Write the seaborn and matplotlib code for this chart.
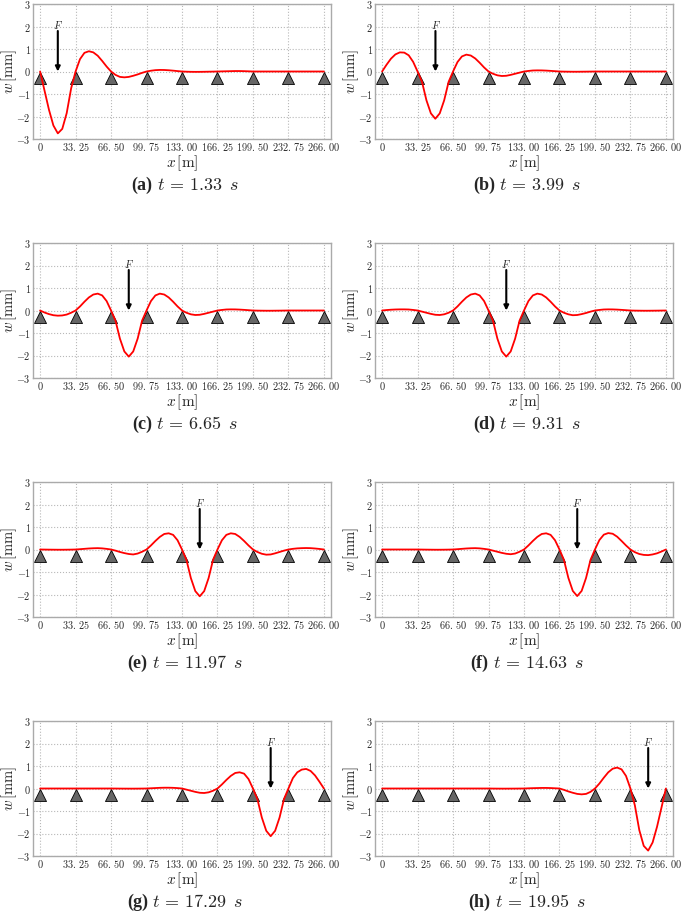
"""
Moving load on a continuous 8-span beam: deflection snapshots w(x) at
eight time steps, laid out 4 x 2 with (a)-(h) captions.
Saves out.png.
"""

import numpy as np
import matplotlib
matplotlib.use("Agg")
import matplotlib.pyplot as plt
import seaborn as sns

# ---- data ------------------------------------------------------------------
supports = [0.0, 33.25, 66.5, 99.75, 133.0, 166.25, 199.5, 232.75, 266.0]
xtick_text = ["0", "33.25", "66.50", "99.75", "133.00", "166.25",
              "199.50", "232.75", "266.00"]
yticks = [-3, -2, -1, 0, 1, 2, 3]
panel_tags = ["a", "b", "c", "d", "e", "f", "g", "h"]
times = [1.33, 3.99, 6.65, 9.31, 11.97, 14.63, 17.29, 19.95]
load_x = [16.6, 50.0, 83.1, 116.4, 149.6, 182.9, 216.1, 249.4]

# sample stations: 8 per span
x_stations = np.linspace(0, 266, 65)

# deflection [mm] at the stations, one line per span
w_a = [0.0,
       -0.85, -1.70, -2.40, -2.75, -2.55, -1.85, -0.75, 0.0,
       0.55, 0.83, 0.90, 0.85, 0.70, 0.47, 0.22, 0.0,
       -0.15, -0.24, -0.26, -0.24, -0.19, -0.13, -0.06, 0.0,
       0.035, 0.06, 0.07, 0.067, 0.055, 0.038, 0.018, 0.0,
       -0.008, -0.014, -0.016, -0.015, -0.012, -0.008, -0.004, 0.0,
       0.005, 0.01, 0.015, 0.02, 0.02, 0.015, 0.008, 0.0,
       0.0, 0.0, 0.0, 0.0, 0.0, 0.0, 0.0, 0.0,
       0.0, 0.0, 0.0, 0.0, 0.0, 0.0, 0.0, 0.0]
w_b = [0.0,
       0.30, 0.57, 0.76, 0.85, 0.84, 0.72, 0.43, 0.0,
       -0.46, -1.28, -1.86, -2.10, -1.86, -1.28, -0.46, 0.0,
       0.42, 0.67, 0.75, 0.71, 0.58, 0.39, 0.18, 0.0,
       -0.10, -0.17, -0.20, -0.19, -0.15, -0.10, -0.05, 0.0,
       0.025, 0.045, 0.05, 0.048, 0.04, 0.028, 0.014, 0.0,
       -0.005, -0.008, -0.01, -0.01, -0.008, -0.006, -0.003, 0.0,
       0.0, 0.0, 0.0, 0.0, 0.0, 0.0, 0.0, 0.0,
       0.0, 0.0, 0.0, 0.0, 0.0, 0.0, 0.0, 0.0]
w_c = [0.0,
       -0.09, -0.16, -0.21, -0.23, -0.22, -0.18, -0.10, 0.0,
       0.18, 0.39, 0.58, 0.71, 0.75, 0.67, 0.42, 0.0,
       -0.45, -1.25, -1.82, -2.05, -1.82, -1.25, -0.45, 0.0,
       0.42, 0.67, 0.75, 0.71, 0.58, 0.39, 0.18, 0.0,
       -0.10, -0.17, -0.20, -0.19, -0.15, -0.10, -0.05, 0.0,
       0.025, 0.045, 0.05, 0.048, 0.04, 0.028, 0.014, 0.0,
       -0.005, -0.008, -0.01, -0.01, -0.008, -0.006, -0.003, 0.0,
       0.0, 0.0, 0.0, 0.0, 0.0, 0.0, 0.0, 0.0]
w_d = [0.0,
       0.02, 0.035, 0.045, 0.05, 0.05, 0.045, 0.025, 0.0,
       -0.05, -0.10, -0.15, -0.19, -0.20, -0.17, -0.10, 0.0,
       0.18, 0.39, 0.58, 0.71, 0.75, 0.67, 0.42, 0.0,
       -0.45, -1.25, -1.82, -2.05, -1.82, -1.25, -0.45, 0.0,
       0.42, 0.67, 0.75, 0.71, 0.58, 0.39, 0.18, 0.0,
       -0.10, -0.17, -0.21, -0.20, -0.16, -0.11, -0.05, 0.0,
       0.025, 0.045, 0.05, 0.048, 0.04, 0.028, 0.014, 0.0,
       -0.005, -0.008, -0.01, -0.01, -0.008, -0.006, -0.003, 0.0]
w_e = [0.0,
       -0.003, -0.006, -0.008, -0.01, -0.01, -0.008, -0.005, 0.0,
       0.014, 0.03, 0.045, 0.055, 0.06, 0.05, 0.028, 0.0,
       -0.05, -0.11, -0.16, -0.20, -0.22, -0.18, -0.10, 0.0,
       0.18, 0.38, 0.56, 0.69, 0.72, 0.65, 0.41, 0.0,
       -0.46, -1.27, -1.85, -2.08, -1.85, -1.27, -0.46, 0.0,
       0.41, 0.65, 0.72, 0.69, 0.56, 0.38, 0.18, 0.0,
       -0.11, -0.19, -0.23, -0.22, -0.17, -0.11, -0.05, 0.0,
       0.03, 0.05, 0.06, 0.065, 0.06, 0.045, 0.025, 0.0]
w_f = [0.0,
       0.0, 0.0, 0.0, 0.0, 0.0, 0.0, 0.0, 0.0,
       -0.003, -0.006, -0.008, -0.01, -0.01, -0.008, -0.005, 0.0,
       0.014, 0.03, 0.045, 0.055, 0.06, 0.05, 0.028, 0.0,
       -0.05, -0.10, -0.15, -0.19, -0.21, -0.18, -0.10, 0.0,
       0.18, 0.38, 0.56, 0.69, 0.72, 0.65, 0.41, 0.0,
       -0.46, -1.26, -1.84, -2.07, -1.84, -1.26, -0.46, 0.0,
       0.42, 0.66, 0.73, 0.70, 0.57, 0.38, 0.18, 0.0,
       -0.12, -0.20, -0.24, -0.25, -0.22, -0.17, -0.09, 0.0]
w_g = [0.0,
       0.0, 0.0, 0.0, 0.0, 0.0, 0.0, 0.0, 0.0,
       0.0, 0.0, 0.0, 0.0, 0.0, 0.0, 0.0, 0.0,
       -0.002, -0.004, -0.005, -0.006, -0.006, -0.005, -0.003, 0.0,
       0.01, 0.02, 0.03, 0.035, 0.035, 0.03, 0.018, 0.0,
       -0.05, -0.10, -0.15, -0.19, -0.20, -0.17, -0.10, 0.0,
       0.18, 0.38, 0.56, 0.69, 0.72, 0.66, 0.42, 0.0,
       -0.47, -1.29, -1.88, -2.12, -1.88, -1.29, -0.47, 0.0,
       0.46, 0.72, 0.84, 0.87, 0.78, 0.58, 0.30, 0.0]
w_h = [0.0,
       0.0, 0.0, 0.0, 0.0, 0.0, 0.0, 0.0, 0.0,
       0.0, 0.0, 0.0, 0.0, 0.0, 0.0, 0.0, 0.0,
       0.0, 0.0, 0.0, 0.0, 0.0, 0.0, 0.0, 0.0,
       -0.003, -0.005, -0.006, -0.006, -0.005, -0.004, -0.002, 0.0,
       0.008, 0.015, 0.02, 0.025, 0.025, 0.02, 0.01, 0.0,
       -0.06, -0.13, -0.19, -0.24, -0.26, -0.24, -0.15, 0.0,
       0.22, 0.48, 0.72, 0.88, 0.93, 0.85, 0.56, 0.0,
       -0.75, -1.85, -2.55, -2.76, -2.40, -1.70, -0.85, 0.0]
deflections = [w_a, w_b, w_c, w_d, w_e, w_f, w_g, w_h]

# ---- layout (pixels of the 685 x 917 reference) ----------------------------
FIG_W, FIG_H = 685, 917
COL_LEFT = [33, 375]
AX_W = 298
ROW_TOP = [4, 243, 482, 721]
AX_H = 135
CAPTION_DY = 186

sns.set_style("whitegrid")
plt.rcParams["font.family"] = ["Liberation Serif", "DejaVu Serif"]
plt.rcParams["mathtext.fontset"] = "cm"


def tick_label(s):
    if "." in s:
        a, b = s.split(".")
        return rf"${a}.\,{b}$"
    return rf"${s}$"


def draw_panel(ax, w, xf):
    sns.lineplot(x=x_stations, y=w, ax=ax, color="red", lw=1.3, zorder=3,
                 solid_joinstyle="round")
    # supports: triangle apex sits on w = 0
    sns.scatterplot(x=supports, y=[-0.27] * len(supports), ax=ax, marker="^",
                    s=75, color="#666666", edgecolor="black", linewidth=0.6,
                    zorder=2)
    ax.annotate("", xy=(xf, 0.0), xytext=(xf, 1.8),
                arrowprops=dict(arrowstyle="-|>", color="black", lw=1.5,
                                mutation_scale=7, shrinkA=0, shrinkB=0),
                zorder=4)
    ax.text(xf, 2.05, r"$F$", ha="center", va="center", fontsize=7.5)

    ax.set_xlim(-6.65, 272.65)
    ax.set_ylim(-3, 3)
    ax.set_xticks(supports)
    ax.set_xticklabels([tick_label(s) for s in xtick_text])
    ax.set_yticks(yticks)
    ax.set_yticklabels([rf"${v}$" for v in yticks])
    ax.tick_params(labelsize=7.4, pad=1.5, length=2, direction="in",
                   color="#888888")
    ax.grid(True, color="#b8b8b8", linestyle=":", linewidth=0.8)
    for sp in ax.spines.values():
        sp.set_color("#aaaaaa")
        sp.set_linewidth(1.0)
    ax.set_xlabel(r"$x\,[\mathrm{m}]$", fontsize=11, labelpad=0)
    ax.set_ylabel(r"$w\,[\mathrm{mm}]$", fontsize=10.5)
    ax.yaxis.set_label_coords(-0.047, 0.5)


def add_caption(fig, renderer, cx_px, cy_px, tag, t):
    y = 1 - cy_px / FIG_H
    t1 = fig.text(0, y, f"({tag})", fontsize=13, fontweight="bold",
                  family=["Liberation Serif"], ha="left", va="baseline")
    t2 = fig.text(0, y, rf"$t\,=\,{t:.2f}\ \,s$", fontsize=13,
                  ha="left", va="baseline")
    w1 = t1.get_window_extent(renderer).width
    w2 = t2.get_window_extent(renderer).width
    gap = 4
    x0 = cx_px - (w1 + gap + w2) / 2
    t1.set_x(x0 / FIG_W)
    t2.set_x((x0 + w1 + gap) / FIG_W)


def main():
    fig = plt.figure(figsize=(FIG_W / 100, FIG_H / 100), dpi=100)
    renderer = fig.canvas.get_renderer()
    for i, w in enumerate(deflections):
        row, col = divmod(i, 2)
        left = COL_LEFT[col] / FIG_W
        bottom = 1 - (ROW_TOP[row] + AX_H) / FIG_H
        ax = fig.add_axes([left, bottom, AX_W / FIG_W, AX_H / FIG_H])
        draw_panel(ax, w, load_x[i])

        cx = COL_LEFT[col] + AX_W / 2 + 3
        cy = ROW_TOP[row] + CAPTION_DY
        add_caption(fig, renderer, cx, cy, panel_tags[i], times[i])

    fig.savefig("out.png", dpi=100)
    plt.close(fig)


if __name__ == "__main__":
    main()
